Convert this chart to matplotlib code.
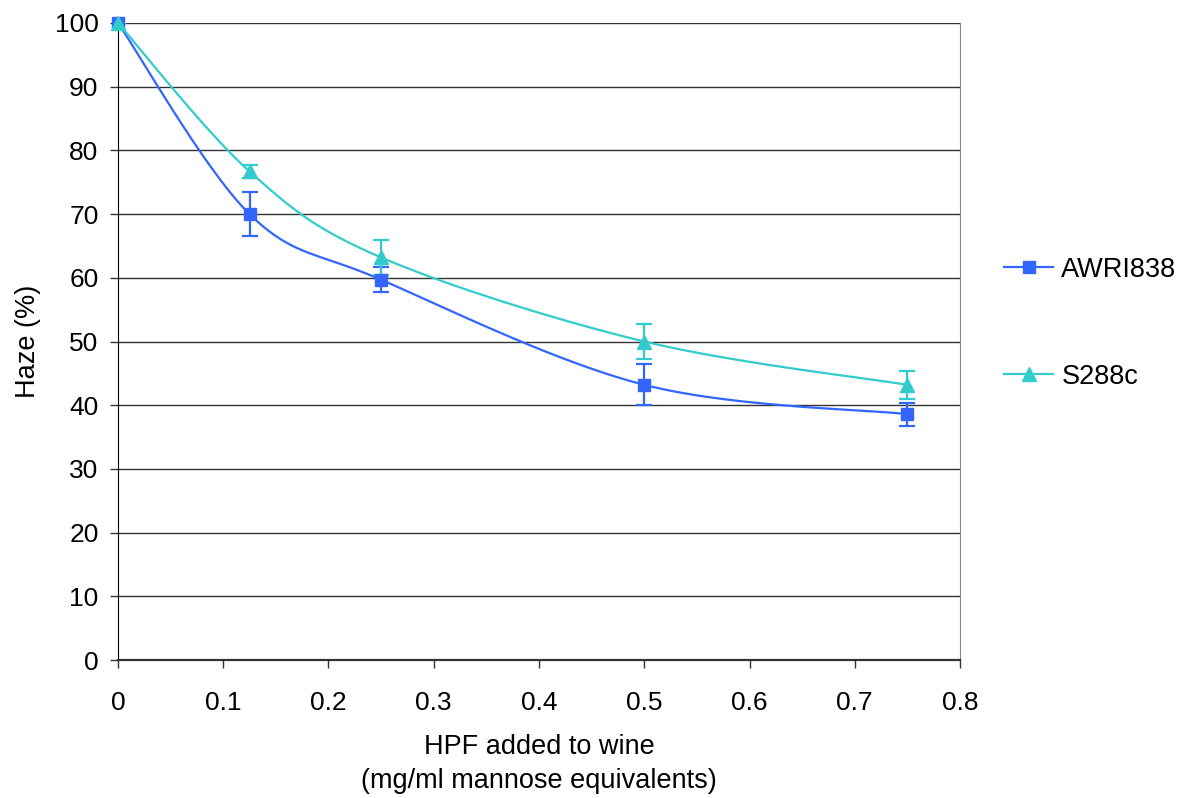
import numpy as np
import matplotlib

matplotlib.use("Agg")
import matplotlib.pyplot as plt
from matplotlib.lines import Line2D

plt.rcParams["font.family"] = ["Liberation Sans", "DejaVu Sans"]

hpf = [0, 0.125, 0.25, 0.5, 0.75]
awri838 = [100, 70.0, 59.7, 43.2, 38.6]
awri838_err = [0, 3.5, 2.0, 3.2, 1.8]
s288c = [100, 76.7, 63.2, 50.0, 43.2]
s288c_err = [0, 1.0, 2.8, 2.7, 2.2]

BLUE = "#3366ff"
TEAL = "#33cccc"


def smooth(x, y, n=30):
    # Catmull-Rom style curve through the points, like Excel's smoothed line
    x = np.asarray(x, float)
    y = np.asarray(y, float)
    px = np.concatenate([[x[0]], x, [x[-1]]])
    py = np.concatenate([[y[0]], y, [y[-1]]])
    xs, ys = [], []
    t = np.linspace(0, 1, n)
    for i in range(1, len(px) - 2):
        p0, p1, p2, p3 = (np.array([px[j], py[j]]) for j in range(i - 1, i + 3))
        c1 = p1 + (p2 - p0) / 6
        c2 = p2 - (p3 - p1) / 6
        pts = ((1 - t) ** 3)[:, None] * p1 + (3 * (1 - t) ** 2 * t)[:, None] * c1 \
            + (3 * (1 - t) * t ** 2)[:, None] * c2 + (t ** 3)[:, None] * p2
        xs.append(pts[:, 0])
        ys.append(pts[:, 1])
    return np.concatenate(xs), np.concatenate(ys)


fig = plt.figure(figsize=(11.88, 7.98), dpi=100)
ax = fig.add_axes([0.0993, 0.1729, 0.7088, 0.7983])

for yv in range(10, 101, 10):
    ax.axhline(yv, color="#333333", linewidth=1.0, zorder=1)

for x, y, err, color, marker, ms in [
    (hpf, awri838, awri838_err, BLUE, "s", 9),
    (hpf, s288c, s288c_err, TEAL, "^", 10),
]:
    sx, sy = smooth(x, y)
    ax.plot(sx, sy, color=color, linewidth=1.6, zorder=3, clip_on=False)
    ax.errorbar(x, y, yerr=err, fmt="none", ecolor=color, elinewidth=1.6,
                capsize=5.5, capthick=1.6, zorder=3)
    ax.plot(x, y, linestyle="none", marker=marker, color=color, markersize=ms,
            zorder=4, clip_on=False)

ax.set_xlim(0, 0.8)
ax.set_ylim(0, 100)
ax.set_xticks(np.arange(0, 0.81, 0.1))
ax.set_xticklabels(["0", "0.1", "0.2", "0.3", "0.4", "0.5", "0.6", "0.7", "0.8"])
ax.set_yticks(range(0, 101, 10))
ax.tick_params(axis="both", labelsize=19, length=6, width=1, color="#333333", pad=8)
ax.tick_params(axis="x", pad=16)

ax.spines["top"].set_visible(False)
ax.spines["right"].set_color("#888888")
ax.spines["left"].set_color("black")
ax.spines["bottom"].set_color("#333333")
ax.spines["bottom"].set_linewidth(1.6)

ax.set_xlabel("HPF added to wine\n(mg/ml mannose equivalents)", fontsize=19.5,
              labelpad=14, linespacing=1.4)
ax.set_ylabel("Haze (%)", fontsize=19.5, labelpad=10)

handles = [
    Line2D([], [], color=BLUE, marker="s", markersize=9, linewidth=1.6, label="AWRI838"),
    Line2D([], [], color=TEAL, marker="^", markersize=10, linewidth=1.6, label="S288c"),
]
fig.legend(handles=handles, loc="center left", bbox_to_anchor=(0.825, 0.595),
           frameon=False, fontsize=19.5, labelspacing=3.0, handlelength=1.8,
           handletextpad=0.3)

fig.savefig("out.png", dpi=100)
